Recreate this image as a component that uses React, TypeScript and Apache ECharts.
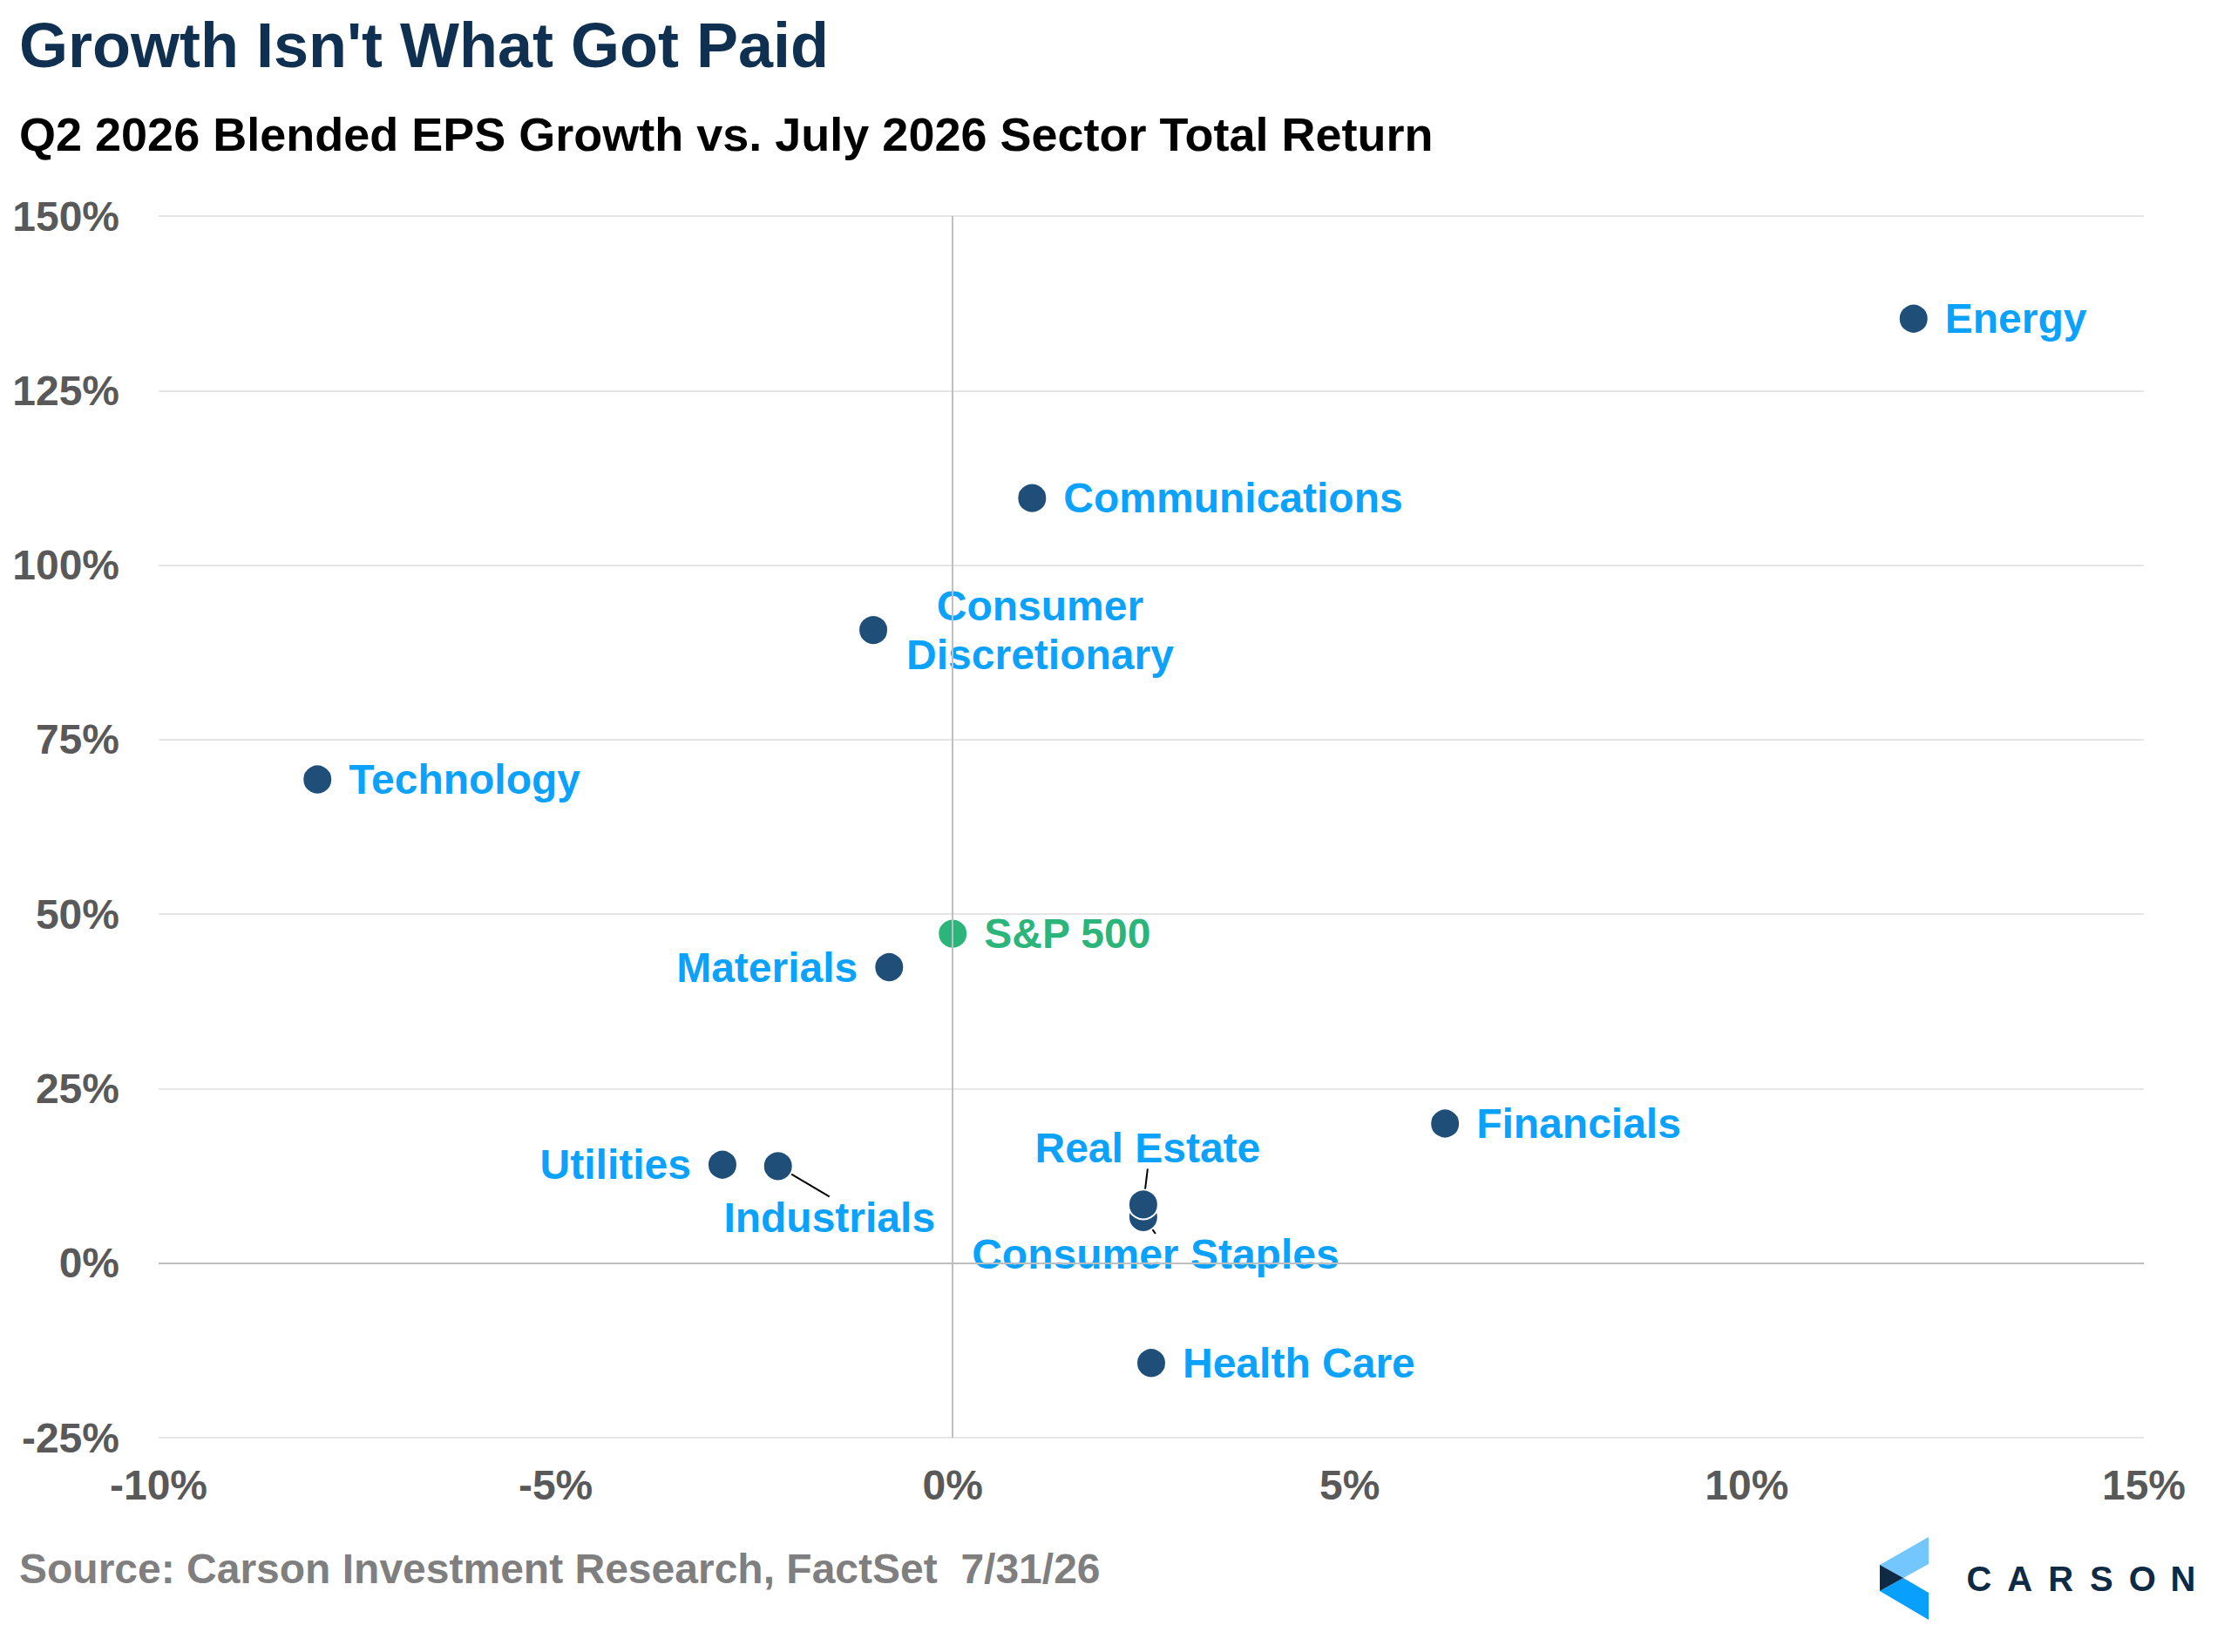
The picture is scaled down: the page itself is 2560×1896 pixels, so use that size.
import { useEffect, useRef } from 'react';
import * as echarts from 'echarts';

// Q2 2026 blended EPS growth (%) vs July 2026 sector total return (%)
const sectors = [
  'Energy',
  'Communications',
  'Consumer Discretionary',
  'Technology',
  'Materials',
  'Utilities',
  'Financials',
  'Health Care',
];
const epsGrowth = [12.1, 1.0, -1.0, -8.0, -0.8, -2.9, 6.2, 2.5];
const julyReturn = [135.3, 109.6, 90.7, 69.3, 42.4, 14.1, 20.0, -14.3];

// points labelled through a leader line
const calloutSectors = ['Industrials', 'Consumer Staples', 'Real Estate'];
const calloutEps = [-2.2, 2.4, 2.4];
const calloutReturn = [13.9, 6.6, 8.4];

const benchmark = 'S&P 500';
const benchmarkEps = 0.0;
const benchmarkReturn = 47.2;

const xTicks = { min: -10, max: 15, step: 5 };
const yTicks = { min: -25, max: 150, step: 25 };

const FONT = "'Liberation Sans', Arial, sans-serif";
const NAVY = '#1f4e79';
const BLUE = '#0ba2fd';
const GREEN = '#2bb57b';

// label side for the plain labels
const labelSide: Record<string, string> = {
  Materials: 'left',
  Utilities: 'left',
};
// label offsets (px) for the callouts
const calloutOffset: Record<string, [number, number]> = {
  Industrials: [59, 59],
  'Consumer Staples': [14, 43],
  'Real Estate': [5, -65],
};

const App = () => {
  const chartRef = useRef<HTMLDivElement>(null);

  useEffect(() => {
    if (!chartRef.current) return;
    document.body.style.margin = '0';
    const myChart = echarts.init(chartRef.current, null, { renderer: 'svg' });

    const labelBase = {
      show: true,
      color: BLUE,
      fontFamily: FONT,
      fontWeight: 'bold' as const,
      fontSize: 48,
    };

    const mainData = sectors.map((name, i) => {
      const item: any = { name, value: [epsGrowth[i], julyReturn[i]] };
      if (name === 'Consumer Discretionary') {
        item.label = {
          position: 'right',
          distance: 20,
          formatter: '{a|Consumer}\n{a|Discretionary}',
          rich: {
            a: {
              align: 'center',
              color: BLUE,
              fontFamily: FONT,
              fontWeight: 'bold',
              fontSize: 48,
              lineHeight: 56,
            },
          },
        };
      } else {
        item.label = { position: labelSide[name] || 'right', distance: 18 };
      }
      return item;
    });

    const calloutData = calloutSectors.map((name, i) => ({
      name,
      value: [calloutEps[i], calloutReturn[i]],
    }));

    const option = {
      animation: false,
      backgroundColor: '#ffffff',
      title: [
        {
          text: "Growth Isn't What Got Paid",
          left: 22,
          top: 16,
          padding: 0,
          textStyle: { fontFamily: FONT, fontWeight: 'bold', fontSize: 72, color: '#0f3050' },
        },
        {
          text: 'Q2 2026 Blended EPS Growth vs. July 2026 Sector Total Return',
          left: 22,
          top: 127,
          padding: 0,
          textStyle: { fontFamily: FONT, fontWeight: 'bold', fontSize: 54, color: '#000000' },
        },
        {
          text: 'Source: Carson Investment Research, FactSet  7/31/26',
          left: 22,
          top: 1776,
          padding: 0,
          textStyle: { fontFamily: FONT, fontWeight: 'bold', fontSize: 48, color: '#7f7f7f' },
        },
      ],
      grid: { left: 182, right: 100, top: 248, bottom: 246 },
      xAxis: {
        type: 'value',
        min: xTicks.min,
        max: xTicks.max,
        interval: xTicks.step,
        axisLine: { show: false },
        axisTick: { show: false },
        splitLine: { show: false },
        axisLabel: {
          formatter: '{value}%',
          margin: 30,
          color: '#595959',
          fontFamily: FONT,
          fontWeight: 'bold',
          fontSize: 48,
        },
      },
      yAxis: {
        type: 'value',
        min: yTicks.min,
        max: yTicks.max,
        interval: yTicks.step,
        axisLine: { show: false },
        axisTick: { show: false },
        splitLine: { lineStyle: { color: '#e6e6e6', width: 2 } },
        axisLabel: {
          formatter: '{value}%',
          margin: 45,
          color: '#595959',
          fontFamily: FONT,
          fontWeight: 'bold',
          fontSize: 48,
        },
      },
      series: [
        {
          type: 'scatter',
          data: [],
          z: 1,
          silent: true,
          markLine: {
            silent: true,
            symbol: ['none', 'none'],
            label: { show: false },
            lineStyle: { color: '#bfbfbf', width: 2, type: 'solid' },
            data: [{ xAxis: 0 }, { yAxis: 0 }],
          },
        },
        {
          name: 'Sectors',
          type: 'scatter',
          z: 3,
          symbolSize: 34,
          itemStyle: { color: NAVY, borderColor: '#ffffff', borderWidth: 2, opacity: 1 },
          label: { ...labelBase, formatter: '{b}' },
          data: mainData,
        },
        {
          name: 'Callouts',
          type: 'scatter',
          z: 3,
          symbolSize: 34,
          itemStyle: { color: NAVY, borderColor: '#ffffff', borderWidth: 2, opacity: 1 },
          label: { ...labelBase, position: 'inside', formatter: '{b}' },
          labelLine: { show: true, lineStyle: { color: '#000000', width: 2 } },
          labelLayout: (params: any) => {
            const name = calloutSectors[params.dataIndex];
            const [dx, dy] = calloutOffset[name] || [0, 0];
            return { dx, dy };
          },
          data: calloutData,
        },
        {
          name: benchmark,
          type: 'scatter',
          z: 4,
          symbolSize: 34,
          itemStyle: { color: GREEN, borderColor: '#ffffff', borderWidth: 2, opacity: 1 },
          label: { ...labelBase, color: GREEN, position: 'right', distance: 18, formatter: '{b}' },
          data: [{ name: benchmark, value: [benchmarkEps, benchmarkReturn] }],
        },
      ],
      graphic: [
        {
          type: 'group',
          x: 0,
          y: -6,
          children: [
            {
              type: 'polygon',
              shape: { points: [[2157, 1802], [2213, 1770], [2213, 1801], [2184, 1817]] },
              style: { fill: '#74c6fe' },
            },
            {
              type: 'polygon',
              shape: { points: [[2157, 1832], [2184, 1817], [2213, 1834], [2213, 1865]] },
              style: { fill: '#08a0fc' },
            },
            {
              type: 'polygon',
              shape: { points: [[2157, 1802], [2184, 1817], [2157, 1832]] },
              style: { fill: '#0f2a44' },
            },
            ...'CARSON'.split('').map((ch, i) => ({
              type: 'text',
              x: 2271 + i * 46.8,
              y: 1818,
              style: {
                text: ch,
                fill: '#0f2a44',
                font: `bold 40px ${FONT}`,
                align: 'center',
                verticalAlign: 'middle',
              },
            })),
          ],
        },
      ],
    };

    myChart.setOption(option);

    const handleResize = () => myChart.resize();
    window.addEventListener('resize', handleResize);
    return () => {
      window.removeEventListener('resize', handleResize);
      myChart.dispose();
    };
  }, []);

  return <div ref={chartRef} style={{ width: '2560px', height: '1896px' }} />;
};

export default App;
